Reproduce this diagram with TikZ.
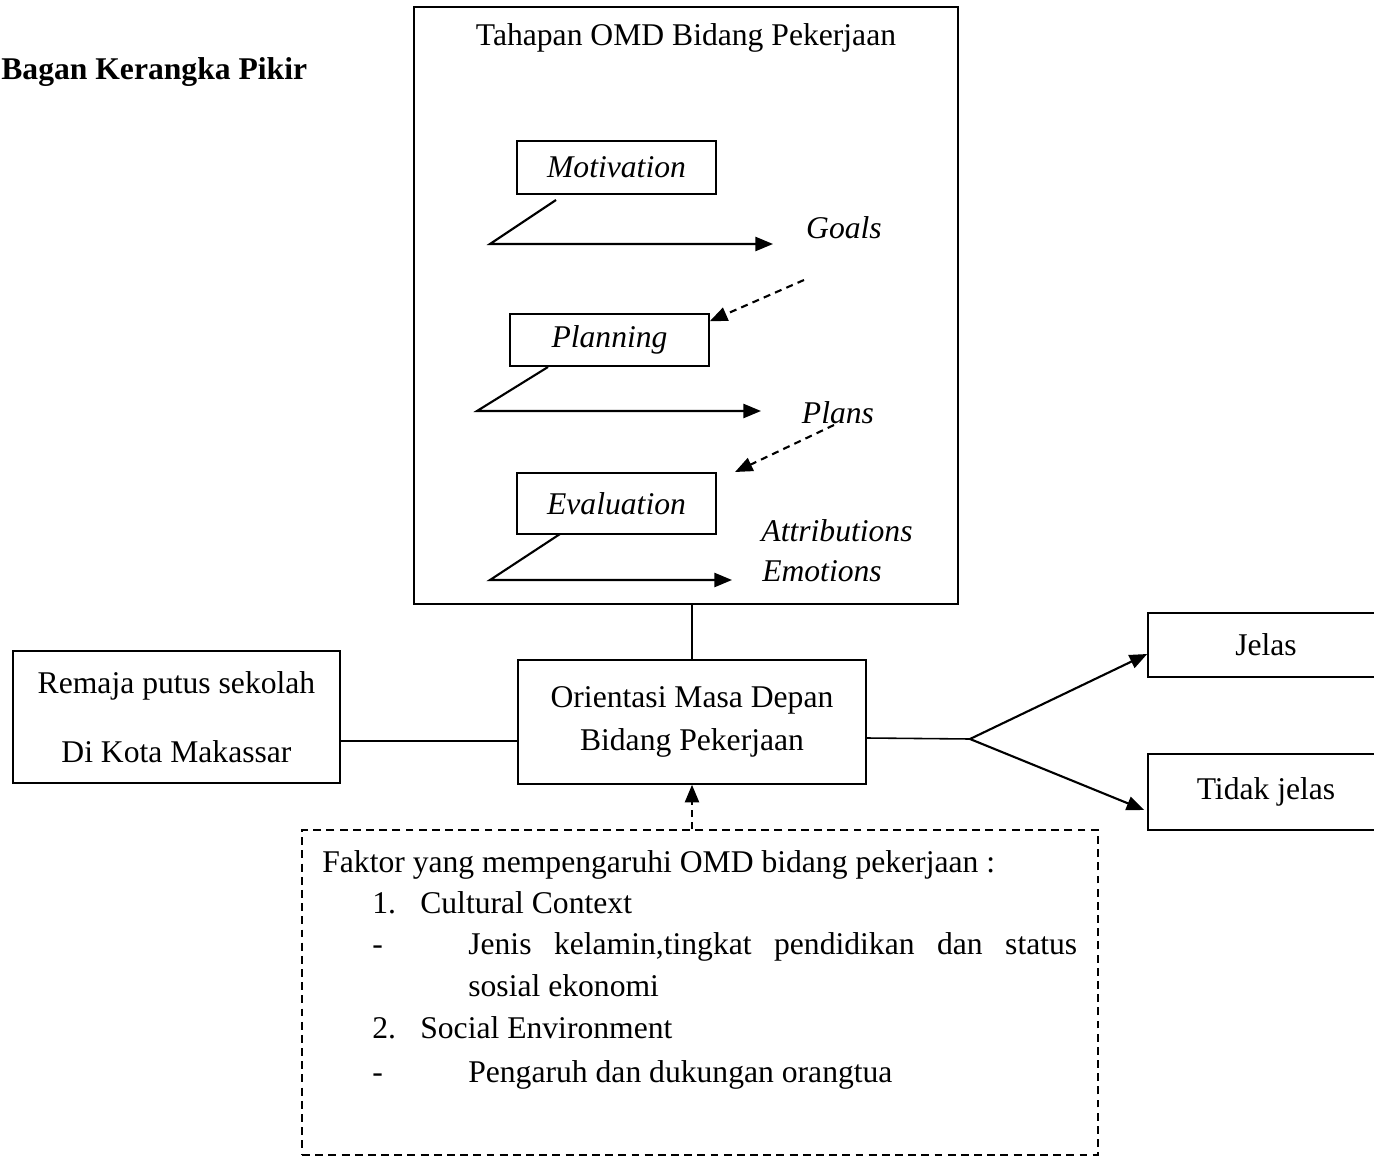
\documentclass[tikz,border=0pt]{standalone}
\usepackage{fontspec}
\setmainfont{Liberation Serif}
\usetikzlibrary{arrows.meta}
\newcommand{\diagfont}{\fontsize{18}{22}\selectfont}
\tikzset{
    box/.style={draw=black, line width=0.9pt, inner sep=0pt, align=center, font=\diagfont},
    stagebox/.style={box, font=\diagfont\itshape, minimum width=3.98cm},
    tag/.style={inner sep=0pt, font=\diagfont\itshape},
    plain/.style={inner sep=0pt, font=\diagfont},
    factorline/.style={inner sep=0pt, anchor=base west, font=\diagfont},
    line/.style={line width=0.9pt},
    flow/.style={line width=1.2pt, -{Triangle[length=10pt, width=8pt]}},
    hint/.style={flow, dash pattern=on 4pt off 3pt},
}

\begin{document}
\begin{tikzpicture}[x=0.02cm, y=-0.02cm]
    \useasboundingbox (0,0) rectangle (1374,1159);
    \node[plain, anchor=base west, font=\diagfont\bfseries] (title) at (1,80) {Bagan Kerangka Pikir};

    \node[box, minimum width=10.88cm, minimum height=11.94cm] (frame) at (686,305.5) {};
    \node[plain] (stages) at (686,38) {Tahapan OMD Bidang Pekerjaan};
    \node[stagebox, minimum height=1.06cm] (mot) at (616.5,167.5) {Motivation};
    \node[stagebox, minimum height=1.04cm] (plan) at (609.5,340) {Planning};
    \node[stagebox, minimum height=1.22cm] (eval) at (616.5,503.5) {Evaluation};
    \node[tag] (goals) at (844,228) {Goals};
    \node[tag] (plans) at (838,413) {Plans};
    \node[tag] (attr) at (837,531) {Attributions};
    \node[tag] (emo) at (822,571) {Emotions};

    \coordinate (motA) at (556,200);
    \coordinate (motB) at (490,244);
    \coordinate (motC) at (773,244);
    \coordinate (planA) at (548,367);
    \coordinate (planB) at (477,411);
    \coordinate (planC) at (761,411);
    \coordinate (evalA) at (560,534);
    \coordinate (evalB) at (490,580);
    \coordinate (evalC) at (732,580);
    \coordinate (goalsTail) at (804,280);
    \coordinate (plansTail) at (834,425);
    \coordinate (evalHead) at (735,472);

    \draw[flow] (motA) -- (motB) -- (motC);
    \draw[flow] (planA) -- (planB) -- (planC);
    \draw[flow] (evalA) -- (evalB) -- (evalC);
    \draw[hint] (goalsTail) -- ([yshift=-0.16cm]plan.north east);
    \draw[hint] (plansTail) -- (evalHead);

    \node[box, minimum width=6.96cm, minimum height=2.48cm] (orient) at (692,722) {Orientasi Masa Depan\\[2.5pt]Bidang Pekerjaan};
    \node[box, minimum width=6.54cm, minimum height=2.64cm] (remaja) at (176.5,717) {Remaja putus sekolah\\[17pt]Di Kota Makassar};
    \node[box, minimum width=4.72cm, minimum height=1.28cm] (jelas) at (1266,645) {Jelas};
    \node[box, minimum width=4.72cm, minimum height=1.52cm] (tidak) at (1266,792) {Tidak jelas};
    \node[box, dash pattern=on 4.5pt off 3pt, minimum width=15.92cm, minimum height=6.5cm] (faktor) at (700,992.5) {};

    \draw[line] (orient.north |- frame.south) -- (orient.north);
    \draw[line] (remaja.east) ++(0,24) coordinate (rl) -- (rl -| orient.west);
    \coordinate (fork) at (970,739);
    \draw[line] (orient.east) ++(0,16) -- (fork);
    \draw[flow] (fork) -- ([yshift=-0.18cm]jelas.west);
    \draw[flow] (fork) -- ([yshift=-0.36cm, xshift=-0.06cm]tidak.west);
    \draw[hint] (faktor.north -| orient.south) -- (orient.south);

    \node[factorline] (f0) at (322,872) {Faktor yang mempengaruhi OMD bidang pekerjaan :};
    \node[factorline] (f1) at (372,913) {\makebox[0.96cm][l]{1.}Cultural Context};
    \node[factorline] (f2) at (372,954) {\makebox[1.92cm][l]{-}\makebox[12.18cm][s]{Jenis kelamin,tingkat pendidikan dan status}};
    \node[factorline] (f3) at (468,996) {sosial ekonomi};
    \node[factorline] (f4) at (372,1038) {\makebox[0.96cm][l]{2.}Social Environment};
    \node[factorline] (f5) at (372,1082) {\makebox[1.92cm][l]{-}Pengaruh dan dukungan orangtua};
\end{tikzpicture}
\end{document}
